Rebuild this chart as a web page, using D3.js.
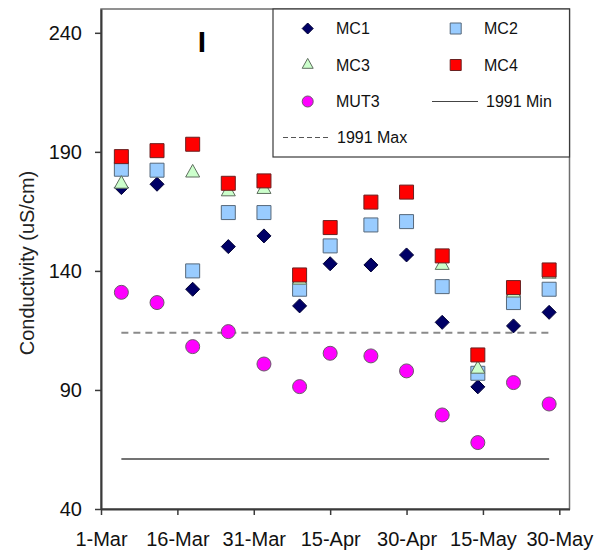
<!DOCTYPE html>
<html>
<head>
<meta charset="utf-8">
<script src="https://cdn.jsdelivr.net/npm/d3@7"></script>
<style>
  html, body { margin: 0; padding: 0; background: #fff; }
  svg { display: block; font-family: "Liberation Sans", Arial, sans-serif; }
</style>
</head>
<body>
<svg id="chart" width="599" height="552"></svg>
<script>
// ---- data ----
const dates = ["2007-03-05","2007-03-12","2007-03-19","2007-03-26","2007-04-02","2007-04-09","2007-04-15","2007-04-23","2007-04-30","2007-05-07","2007-05-14","2007-05-21","2007-05-28"];
const MC1  = [175, 176.4, 132.3, 150.2, 154.7, 125.3, 143, 142.5, 146.7, 118.4, 91.3, 116.9, 122.6];
const MC2  = [182.7, 182.3, 140, 164.5, 164.5, 132.3, 150.5, 159.3, 160.7, 133.4, 97, 126.7, 132.3];
const MC3  = [176.5, null, 181.2, 173.3, 174.3, 136.2, null, null, null, 142.4, 98.8, 130.8, 138.7];
const MC4  = [188, 190.5, 193.2, 176.8, 177.8, 138.3, 158.2, 168.9, 173.1, 146.3, 104.7, 133, 140.4];
const MUT3 = [131, 126.7, 108.2, 114.5, 100.9, 91.4, 105.4, 104.3, 98, 79.5, 67.9, 93.1, 84.1];
const max1991 = 114;
const min1991 = 61;
const refDates = ["2007-03-05", "2007-05-28"];
const xTickDates = ["2007-03-01","2007-03-16","2007-03-31","2007-04-15","2007-04-30","2007-05-15","2007-05-30"];
const yTicks = [40, 90, 140, 190, 240];
const xDomain = ["2007-03-01", "2007-06-01"];
const yDomain = [40, 250];
const yLabel = "Conductivity (uS/cm)";
const panelLabel = "I";

// ---- setup ----
const parse = d3.utcParse("%Y-%m-%d");
const fmt = d3.utcFormat("%-d-%b");
const svg = d3.select("#chart");
const L = 101, R = 569.5, T = 9, B = 509;

const x = d3.scaleUtc().domain(xDomain.map(parse)).range([L, R]);
const y = d3.scaleLinear().domain(yDomain).range([B, T]);

function shape(type, s) {
  const h = s / 2;
  if (type === "diamond") return `M0,${-h}L${h},0L0,${h}L${-h},0Z`;
  if (type === "square") return `M${-h},${-h}H${h}V${h}H${-h}Z`;
  if (type === "triangle") {
    const th = s * 0.9;
    return `M0,${-th * 2 / 3}L${h},${th / 3}L${-h},${th / 3}Z`;
  }
  if (type === "circle") return `M${h},0A${h},${h} 0 1,1 ${-h},0A${h},${h} 0 1,1 ${h},0Z`;
}

const series = [
  { name: "MC1", values: MC1, type: "diamond", fill: "#000066", stroke: "#000033", size: 14 },
  { name: "MC2", values: MC2, type: "square", fill: "#99CCFF", stroke: "#56687a", size: 14 },
  { name: "MC3", values: MC3, type: "triangle", fill: "#CCFFCC", stroke: "#5e6e5e", size: 14 },
  { name: "MC4", values: MC4, type: "square", fill: "#FF0000", stroke: "#6a2020", size: 14 },
  { name: "MUT3", values: MUT3, type: "circle", fill: "#FF00FF", stroke: "#6a5a6a", size: 14 }
];

// frame
svg.append("rect")
  .attr("x", L).attr("y", T).attr("width", R - L).attr("height", B - T)
  .attr("fill", "none").attr("stroke", "#6e6e6e").attr("stroke-width", 1.5);

// reference lines
const refLine = d3.line().x(d => x(d[0])).y(d => y(d[1]));
svg.append("path")
  .datum(refDates.map(d => [parse(d), min1991]))
  .attr("d", refLine).attr("fill", "none")
  .attr("stroke", "#444").attr("stroke-width", 1.3);
svg.append("path")
  .datum(refDates.map(d => [parse(d), max1991]))
  .attr("d", refLine).attr("fill", "none")
  .attr("stroke", "#8a8a8a").attr("stroke-width", 2)
  .attr("stroke-dasharray", "7,5");

// markers
series.forEach(s => {
  svg.append("g").selectAll("path")
    .data(dates.map((d, i) => ({ date: parse(d), v: s.values[i] })).filter(d => d.v != null))
    .join("path")
    .attr("d", shape(s.type, s.size))
    .attr("transform", d => `translate(${x(d.date)},${y(d.v)})`)
    .attr("fill", s.fill).attr("stroke", s.stroke).attr("stroke-width", 1);
});

// axes
const yAxis = svg.append("g").attr("transform", `translate(${L},0)`)
  .call(d3.axisLeft(y).tickValues(yTicks).tickSize(6).tickSizeOuter(0).tickPadding(13));
const xAxis = svg.append("g").attr("transform", `translate(0,${B})`)
  .call(d3.axisBottom(x).tickValues(xTickDates.map(parse)).tickFormat(fmt).tickSize(6).tickSizeOuter(0));
[yAxis, xAxis].forEach(g => {
  g.select(".domain").attr("stroke", "#3a3a3a").attr("stroke-width", 2);
  g.selectAll(".tick line").attr("stroke", "#3a3a3a").attr("stroke-width", 1.5);
  g.selectAll("text").attr("font-size", 20).attr("fill", "#111")
    .attr("font-family", "Liberation Sans, Arial, sans-serif");
});
xAxis.selectAll("text").attr("y", 37).attr("dy", null);

// y label
svg.append("text")
  .attr("transform", "translate(34,263) rotate(-90)")
  .attr("text-anchor", "middle")
  .attr("font-size", 20).attr("fill", "#222")
  .text(yLabel);

// panel label
svg.append("text")
  .attr("x", 202).attr("y", 52)
  .attr("text-anchor", "middle")
  .attr("font-size", 30).attr("font-weight", "bold").attr("fill", "#000")
  .text(panelLabel);

// legend
const lg = svg.append("g");
lg.append("rect").attr("x", 273).attr("y", 9).attr("width", 296.5).attr("height", 148)
  .attr("fill", "#fff").attr("stroke", "#3a3a3a").attr("stroke-width", 1.2);
const legendItems = [
  { s: series[0], cx: 307.7, cy: 28.5, tx: 336 },
  { s: series[1], cx: 455.7, cy: 28.5, tx: 484 },
  { s: series[2], cx: 307.7, cy: 65, tx: 336 },
  { s: series[3], cx: 455.7, cy: 65, tx: 484 },
  { s: series[4], cx: 307.7, cy: 101.5, tx: 336 }
];
legendItems.forEach(it => {
  lg.append("path")
    .attr("d", shape(it.s.type, 11))
    .attr("transform", `translate(${it.cx},${it.cy})`)
    .attr("fill", it.s.fill).attr("stroke", it.s.stroke).attr("stroke-width", 1);
  lg.append("text").attr("x", it.tx).attr("y", it.cy).attr("dy", "0.36em")
    .attr("font-size", 16).attr("fill", "#111").text(it.s.name);
});
lg.append("line").attr("x1", 432).attr("x2", 478).attr("y1", 101.5).attr("y2", 101.5)
  .attr("stroke", "#444").attr("stroke-width", 1.2);
lg.append("text").attr("x", 486).attr("y", 101.5).attr("dy", "0.36em")
  .attr("font-size", 16).attr("fill", "#111").text("1991 Min");
lg.append("line").attr("x1", 283).attr("x2", 330).attr("y1", 137.5).attr("y2", 137.5)
  .attr("stroke", "#555").attr("stroke-width", 1.2).attr("stroke-dasharray", "5,3");
lg.append("text").attr("x", 337).attr("y", 137.5).attr("dy", "0.36em")
  .attr("font-size", 16).attr("fill", "#111").text("1991 Max");
</script>
</body>
</html>
